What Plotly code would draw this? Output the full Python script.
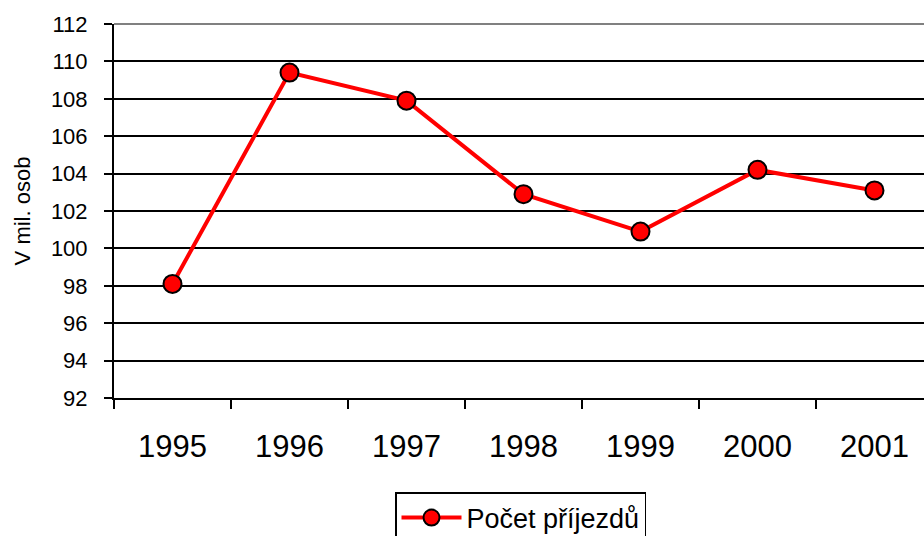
import plotly.graph_objects as go

years = ["1995", "1996", "1997", "1998", "1999", "2000", "2001"]
values = [98.1, 109.4, 107.9, 102.9, 100.9, 104.2, 103.1]
y_ticks = [92, 94, 96, 98, 100, 102, 104, 106, 108, 110, 112]
series_name = "Počet příjezdů"

xpos = list(range(len(years)))
boundaries = [i - 0.5 for i in range(len(years) + 1)]

fig = go.Figure()
fig.add_trace(go.Scatter(
    x=xpos, y=values, mode="lines+markers", name=series_name,
    line=dict(color="#ff0000", width=4),
    marker=dict(size=18, color="#ff0000", line=dict(color="black", width=2)),
    showlegend=True,
))

font = "Liberation Sans, Arial, sans-serif"
fig.update_layout(
    width=924, height=536,
    margin=dict(l=114, r=0, t=24, b=138, autoexpand=False),
    paper_bgcolor="white", plot_bgcolor="white",
    font=dict(family=font, color="black"),
    showlegend=True,
    legend=dict(
        x=(395 - 114) / 810, xanchor="left", y=(398 - 492) / 374, yanchor="top",
        bordercolor="black", borderwidth=1.5, bgcolor="white",
        font=dict(size=27, family=font), itemwidth=60,
    ),
    xaxis=dict(
        range=[-0.5, -0.5 + 810 / 117], automargin=False,
        tickmode="array", tickvals=xpos, ticktext=years, tickangle=0,
        ticks="", tickfont=dict(size=31), ticklabelstandoff=20,
        showgrid=False, zeroline=False,
        showline=True, linecolor="black", linewidth=2,
        minor=dict(tickmode="array", tickvals=boundaries, ticks="outside",
                   ticklen=9, tickwidth=2, tickcolor="black", showgrid=False),
    ),
    yaxis=dict(
        range=[92, 112], tickmode="array", tickvals=y_ticks, automargin=False,
        ticks="outside", ticklen=8, tickwidth=2, tickcolor="black",
        tickfont=dict(size=22), ticklabelstandoff=12,
        showgrid=True, gridcolor="black", gridwidth=2,
        zeroline=False, showline=True, linecolor="black", linewidth=2,
        title=dict(text="V mil. osob", font=dict(size=22), standoff=14),
    ),
    shapes=[dict(type="line", xref="paper", yref="paper", x0=0, x1=1, y0=1, y1=1,
                 line=dict(color="#808080", width=2))],
)

fig.write_html("out.html", config={"displayModeBar": False},
               post_script="document.body.style.margin='0';")
